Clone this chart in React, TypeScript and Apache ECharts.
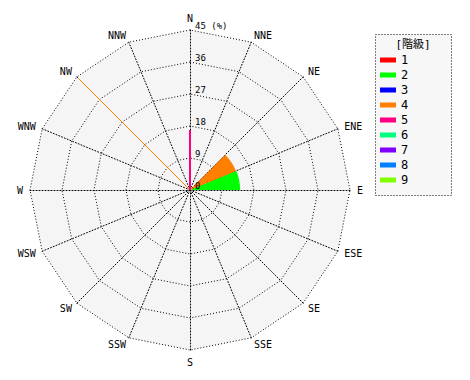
import React, { useEffect, useRef } from "react";
import * as echarts from "echarts";

// 16 compass directions, clockwise from north
const directions = ["N", "NNE", "NE", "ENE", "E", "ESE", "SE", "SSE", "S", "SSW", "SW", "WSW", "W", "WNW", "NW", "NNW"];
// wind speed classes (legend)
const classes = ["1", "2", "3", "4", "5", "6", "7", "8", "9"];
const classColors = ["#ff0000", "#00ff00", "#0000ff", "#ff8000", "#ff0080", "#00ff80", "#8000ff", "#0080ff", "#80ff00"];
// radius ticks (%)
const radiusMax = 45;
const radiusStep = 9;

// frequency (%) per direction, drawn as sector from the direction clockwise to the next one
const class2Sector = [0, 0, 0, 14.1, 0, 0, 0, 0, 0, 0, 0, 0, 0, 0, 0, 0];
const class4Sector = [0, 0, 14.0, 0, 0, 0, 0, 0, 0, 0, 0, 0, 0, 0, 0, 0];
// frequency (%) drawn as a thin spike along a direction
const class4Spike = [0, 0, 0, 0, 0, 0, 0, 0, 0, 0, 0, 0, 0, 0, 44.2, 0];
const class5Spike = [16.9, 0, 0, 0, 0, 0, 0, 0, 0, 0, 0, 0, 0, 0, 0, 0];

const sectorsByClass: Record<string, number[]> = { "2": class2Sector, "4": class4Sector };
const spikesByClass: Record<string, number[]> = { "4": class4Spike, "5": class5Spike };
const spikeWidth: Record<string, number> = { "4": 1, "5": 2 };

const FONT = "DejaVu Sans Mono";

export default function App() {
  const ref = useRef<HTMLDivElement>(null);
  useEffect(() => {
    if (!ref.current) return;
    const chart = echarts.init(ref.current, null, { renderer: "svg" });
    const step = 360 / directions.length;
    // radar indicators go counter-clockwise, so reverse the order after N
    const radarOrder = [directions[0], ...directions.slice(1).reverse()];

    const series: any[] = classes.map((cls, ci) => {
      const color = classColors[ci];
      const data: any[] = [];
      const sec = sectorsByClass[cls];
      const spk = spikesByClass[cls];
      directions.forEach((_, i) => {
        if (sec && sec[i] > 0) data.push([sec[i], i * step, 0]);
        if (spk && spk[i] > 0) data.push([spk[i], i * step, 1]);
      });
      return {
        name: cls,
        type: "custom",
        coordinateSystem: "polar",
        itemStyle: { color },
        data,
        z: 3,
        renderItem: (params: any, api: any) => {
          const v = api.value(0);
          const ang = api.value(1);
          const kind = api.value(2);
          const c = api.coord([0, ang]);
          const p = api.coord([v, ang]);
          if (kind === 1) {
            return {
              type: "line",
              shape: { x1: c[0], y1: c[1], x2: p[0], y2: p[1] },
              style: { stroke: color, lineWidth: spikeWidth[cls] || 1 },
            };
          }
          const r = Math.hypot(p[0] - c[0], p[1] - c[1]);
          const a0 = ((ang - 90) * Math.PI) / 180;
          const a1 = ((ang + step - 90) * Math.PI) / 180;
          return {
            type: "sector",
            shape: { cx: c[0], cy: c[1], r0: 0, r, startAngle: a0, endAngle: a1, clockwise: true },
            style: { fill: color },
          };
        },
      };
    });

    const dotted = { color: "#000", type: [1, 2], width: 1 };

    chart.setOption({
      animation: false,
      backgroundColor: "#ffffff",
      radar: {
        center: [190, 190],
        radius: 160,
        startAngle: 90,
        splitNumber: radiusMax / radiusStep,
        shape: "polygon",
        nameGap: 7,
        axisName: { color: "#000", fontFamily: FONT, fontSize: 10 },
        indicator: radarOrder.map((d) => ({ name: d, min: 0, max: radiusMax })),
        splitArea: { show: true, areaStyle: { color: ["#f5f5f5"] } },
        splitLine: { lineStyle: dotted },
        axisLine: { lineStyle: dotted },
        axisLabel: { show: false },
      },
      polar: { center: [190, 190], radius: 160 },
      angleAxis: {
        type: "value",
        min: 0,
        max: 360,
        startAngle: 90,
        clockwise: true,
        axisLine: { show: false },
        axisTick: { show: false },
        axisLabel: { show: false },
        splitLine: { show: false },
      },
      radiusAxis: {
        type: "value",
        min: 0,
        max: radiusMax,
        interval: radiusStep,
        axisLine: { show: false },
        axisTick: { show: false },
        splitLine: { show: false },
        axisLabel: {
          show: true,
          color: "#000",
          fontFamily: FONT,
          fontSize: 9,
          align: "left",
          verticalAlign: "bottom",
          margin: -5,
          formatter: (v: number) => (v === radiusMax ? `${v} (%)` : String(v)),
        },
        z: 10,
      },
      legend: {
        orient: "vertical",
        left: 380,
        top: 54,
        padding: 0,
        itemWidth: 16,
        itemHeight: 5,
        itemGap: 3,
        icon: "rect",
        data: classes,
        textStyle: { color: "#000", fontFamily: FONT, fontSize: 12, lineHeight: 12 },
      },
      graphic: [
        {
          type: "rect",
          z: -1,
          shape: { x: 375.5, y: 34.5, width: 76, height: 161 },
          style: { fill: "#f7f7f7", stroke: "#000", lineWidth: 1, lineDash: [1, 2] },
        },
        {
          type: "text",
          z: 1,
          x: 413,
          y: 44,
          style: { text: "[階級]", fill: "#000", font: `11px ${FONT}, 'Noto Sans CJK JP'`, align: "center", verticalAlign: "middle" },
        },
      ],
      series,
    });
    return () => chart.dispose();
  }, []);
  return <div ref={ref} style={{ position: "fixed", left: 0, top: 0, width: 470, height: 380 }} />;
}
